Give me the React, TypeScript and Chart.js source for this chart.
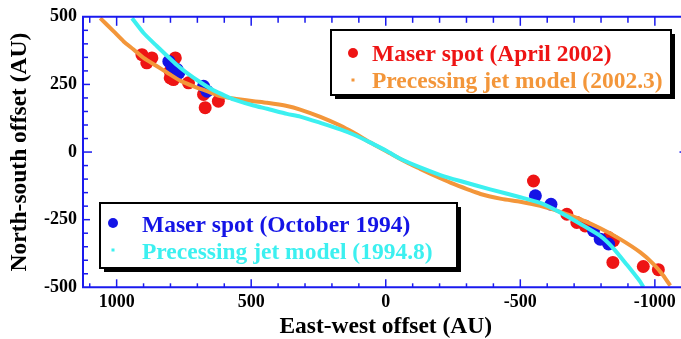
import React, { useEffect, useRef } from "react";
import { Chart, registerables } from "chart.js";
Chart.register(...registerables);

const xTickValues = [1000, 500, 0, -500, -1000];
const yTickValues = [500, 250, 0, -250, -500];

// Maser spots (April 2002)
const maserAprX = [906, 869, 888, 782, 801, 801, 789, 733, 677, 671, 622, -549, -673, -710, -741, -828, -846, -844, -957, -1013];
const maserAprY = [360, 348, 330, 348, 299, 274, 268, 256, 213, 164, 188, -107, -230, -260, -273, -316, -328, -408, -423, -435];

// Maser spots (October 1994)
const maserOctX = [806, 794, 775, 769, 677, 664, -556, -614, -772, -797, -828];
const maserOctY = [335, 317, 305, 293, 243, 225, -162, -193, -291, -322, -340];

// Precessing jet model (2002.3)
const jet2002X = [1061, 1011, 974, 937, 900, 850, 813, 764, 714, 664, 615, 566, 491, 441, 367, 318, 243, 169, 120, 57, -4, -79, -128, -203, -252, -352, -430, -500, -574, -648, -722, -797, -871, -946, -995, -1032, -1057];
const jet2002Y = [495, 446, 409, 379, 348, 317, 294, 264, 243, 225, 207, 198, 188, 182, 170, 157, 130, 98, 72, 35, 2, -39, -62, -97, -118, -155, -173, -184, -199, -221, -248, -282, -322, -371, -414, -457, -494];

// Precessing jet model (1994.8)
const jet1994X = [943, 900, 850, 813, 776, 738, 689, 640, 590, 566, 491, 441, 367, 318, 243, 169, 120, 57, -4, -54, -128, -203, -277, -388, -500, -574, -648, -722, -797, -845, -897, -946, -957];
const jet1994Y = [495, 440, 391, 356, 322, 292, 258, 228, 205, 195, 172, 160, 141, 131, 108, 84, 65, 35, 4, -25, -57, -85, -107, -138, -167, -188, -223, -265, -310, -355, -418, -480, -499];

const RED = "#ee1414";
const BLUE = "#1414e6";
const ORANGE = "#f3963a";
const CYAN = "#3cf0f0";
const AXIS = "#1a1aee";
const FONT = '"Liberation Serif", "Times New Roman", serif';

const pts = (xs: number[], ys: number[]) => xs.map((x, i) => ({ x, y: ys[i] }));

const framePlugin = {
  id: "frame",
  afterDatasetsDraw(chart: any) {
    const { ctx, chartArea: a, scales } = chart;
    const xs = scales.x;
    const ys = scales.y;
    ctx.save();
    ctx.strokeStyle = AXIS;
    ctx.lineWidth = 2;
    ctx.beginPath();
    ctx.rect(a.left, a.top, a.right - a.left, a.bottom - a.top);
    ctx.stroke();
    ctx.lineWidth = 1.5;
    const seg = (x1: number, y1: number, x2: number, y2: number) => {
      ctx.beginPath();
      ctx.moveTo(x1, y1);
      ctx.lineTo(x2, y2);
      ctx.stroke();
    };
    for (let v = -1100; v <= 1100; v += 100) {
      const px = xs.getPixelForValue(v);
      const major = v % 500 === 0;
      seg(px, a.top, px, a.top + (major ? 9 : 6));
      seg(px, a.bottom, px, a.bottom - (major ? 8 : 4));
    }
    for (let v = -450; v <= 450; v += 50) {
      const py = ys.getPixelForValue(v);
      const major = v % 250 === 0;
      const len = v === 0 ? 9 : major ? 7 : 5;
      seg(a.left, py, a.left + len, py);
      seg(a.right, py, a.right - (v === 0 ? 9 : major ? 6 : 4), py);
    }
    ctx.restore();
  },
};

const legendPlugin = {
  id: "boxLegends",
  afterDraw(chart: any) {
    const ctx = chart.ctx;
    const box = (x: number, y: number, w: number, h: number) => {
      ctx.fillStyle = "#000";
      ctx.fillRect(x + 4, y + 4, w, h);
      ctx.fillStyle = "#fff";
      ctx.fillRect(x, y, w, h);
      ctx.strokeStyle = "#000";
      ctx.lineWidth = 2;
      ctx.strokeRect(x, y, w, h);
    };
    const dot = (x: number, y: number, r: number, c: string) => {
      ctx.fillStyle = c;
      ctx.beginPath();
      ctx.arc(x, y, r, 0, Math.PI * 2);
      ctx.fill();
    };
    const sq = (x: number, y: number, s: number, c: string) => {
      ctx.fillStyle = c;
      ctx.fillRect(x - s / 2, y - s / 2, s, s);
    };
    const text = (t: string, x: number, y: number, c: string) => {
      ctx.fillStyle = c;
      ctx.font = `bold 23.5px ${FONT}`;
      ctx.textAlign = "left";
      ctx.textBaseline = "alphabetic";
      ctx.fillText(t, x, y);
    };
    ctx.save();
    box(331, 30, 340, 65);
    dot(353, 53, 5, RED);
    text("Maser spot (April 2002)", 372, 61, RED);
    sq(353, 80, 3, ORANGE);
    text("Precessing jet model (2002.3)", 372, 88, ORANGE);

    box(100, 203, 357, 65);
    dot(113, 223, 5, BLUE);
    text("Maser spot (October 1994)", 142, 231.5, BLUE);
    sq(113, 250, 3, CYAN);
    text("Precessing jet model (1994.8)", 142, 259, CYAN);
    ctx.restore();
  },
};

export default function App() {
  const ref = useRef<HTMLCanvasElement | null>(null);
  useEffect(() => {
    if (!ref.current) return;
    const chart = new Chart(ref.current, {
      type: "scatter",
      data: {
        datasets: [
          {
            label: "Precessing jet model (1994.8)",
            data: pts(jet1994X, jet1994Y),
            showLine: true,
            borderColor: CYAN,
            backgroundColor: CYAN,
            borderWidth: 4,
            pointRadius: 0,
            tension: 0.2,
            order: 0,
          },
          {
            label: "Precessing jet model (2002.3)",
            data: pts(jet2002X, jet2002Y),
            showLine: true,
            borderColor: ORANGE,
            backgroundColor: ORANGE,
            borderWidth: 4,
            pointRadius: 0,
            tension: 0.2,
            order: 1,
          },
          {
            label: "Maser spot (October 1994)",
            data: pts(maserOctX, maserOctY),
            backgroundColor: BLUE,
            borderColor: BLUE,
            pointRadius: 6.5,
            borderWidth: 0,
            order: 2,
          },
          {
            label: "Maser spot (April 2002)",
            data: pts(maserAprX, maserAprY),
            backgroundColor: RED,
            borderColor: RED,
            pointRadius: 6.5,
            borderWidth: 0,
            order: 3,
          },
        ],
      },
      options: {
        animation: false,
        responsive: false,
        devicePixelRatio: 1,
        layout: { padding: { top: 16, right: 11.5, left: 0, bottom: 0 } },
        plugins: { legend: { display: false }, tooltip: { enabled: false } },
        scales: {
          x: {
            type: "linear",
            reverse: true,
            min: -1125,
            max: 1125,
            afterBuildTicks: (s: any) => {
              s.ticks = xTickValues.map((v) => ({ value: v }));
            },
            afterFit: (s: any) => {
              s.height = 51.7;
            },
            grid: { display: false, drawTicks: false },
            border: { display: false },
            ticks: {
              font: { family: FONT, size: 18, weight: "bold" },
              color: "#000",
              padding: 4,
              maxRotation: 0,
              autoSkip: false,
              callback: (v: any) => String(v),
            },
            title: {
              display: true,
              text: "East-west offset (AU)",
              color: "#000",
              font: { family: FONT, size: 23.5, weight: "bold", lineHeight: 1 },
              padding: { top: 0, bottom: 0 },
            },
          },
          y: {
            type: "linear",
            min: -500,
            max: 500,
            afterBuildTicks: (s: any) => {
              s.ticks = yTickValues.map((v) => ({ value: v }));
            },
            afterFit: (s: any) => {
              s.width = 83;
            },
            grid: { display: false, drawTicks: false },
            border: { display: false },
            ticks: {
              font: { family: FONT, size: 18, weight: "bold" },
              color: "#000",
              padding: 6,
              autoSkip: false,
              callback: (v: any) => String(v),
            },
            title: {
              display: true,
              text: "North-south offset (AU)",
              color: "#000",
              font: { family: FONT, size: 23.5, weight: "bold", lineHeight: 1 },
              padding: { top: 8, bottom: 0 },
            },
          },
        },
      },
      plugins: [framePlugin, legendPlugin],
    } as any);
    return () => chart.destroy();
  }, []);
  return (
    <div
      style={{
        position: "fixed",
        left: 0,
        top: 0,
        width: 681,
        height: 339,
        overflow: "hidden",
        background: "#fff",
      }}
    >
      <canvas ref={ref} width={700} height={339} style={{ display: "block" }} />
    </div>
  );
}
